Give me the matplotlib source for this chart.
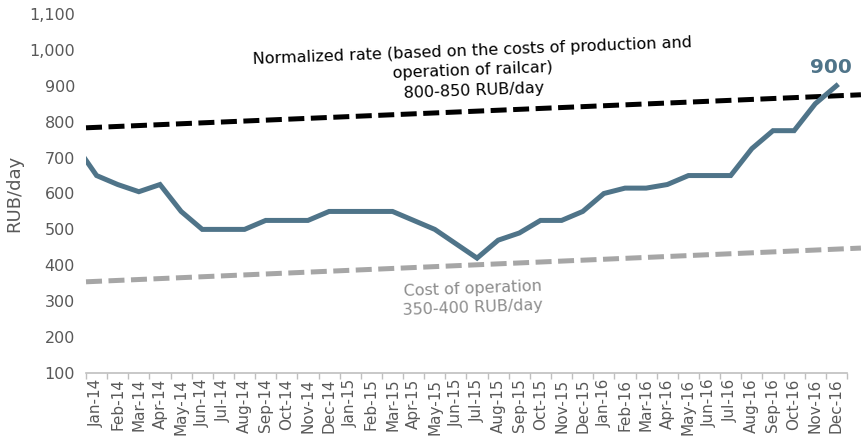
import numpy as np
import matplotlib
matplotlib.use("Agg")
import matplotlib.pyplot as plt

plt.rcParams["font.family"] = ["DejaVu Sans"]

months = ["Jan-14", "Feb-14", "Mar-14", "Apr-14", "May-14", "Jun-14", "Jul-14", "Aug-14",
          "Sep-14", "Oct-14", "Nov-14", "Dec-14", "Jan-15", "Feb-15", "Mar-15", "Apr-15",
          "May-15", "Jun-15", "Jul-15", "Aug-15", "Sep-15", "Oct-15", "Nov-15", "Dec-15",
          "Jan-16", "Feb-16", "Mar-16", "Apr-16", "May-16", "Jun-16", "Jul-16", "Aug-16",
          "Sep-16", "Oct-16", "Nov-16", "Dec-16"]
# previous month (Dec-13) sits just left of the axis and is clipped
rate_prev = 735
rate = [650, 625, 605, 625, 550, 500, 500, 500, 525, 525, 525, 550,
        550, 550, 550, 525, 500, 460, 420, 470, 490, 525, 525, 550,
        600, 615, 615, 625, 650, 650, 650, 725, 775, 775, 850, 900]

# trend lines: value at left edge and at right end of the picture
norm_ends = [783, 875]
cost_ends = [354, 448]

blue = "#4F7489"
grey_txt = "#595959"

fig = plt.figure(figsize=(8.61, 4.46), dpi=100)
ax = fig.add_axes([0.0999, 0.1637, 0.8838, 0.8049])

x = np.arange(-1, len(months))
y = [rate_prev] + rate
ax.plot(x, y, color=blue, lw=3.6, solid_joinstyle="miter", zorder=3)

x_ends = [-0.5, 36.16]
ax.plot(x_ends, norm_ends, color="black", lw=3.6, dashes=(3.2, 1.3), clip_on=False, zorder=2)
ax.plot(x_ends, cost_ends, color="#A6A6A6", lw=3.6, dashes=(3.2, 1.3), clip_on=False, zorder=2)

ax.text(17.8, 942, "Normalized rate (based on the costs of production and\noperation of railcar)\n800-850 RUB/day",
        ha="center", va="center", fontsize=11.5, rotation=2.2, rotation_mode="anchor",
        multialignment="center", linespacing=1.4, color="black")
ax.text(17.8, 308, "Cost of operation\n350-400 RUB/day", ha="center", va="center",
        fontsize=11.5, rotation=2.2, rotation_mode="anchor", multialignment="center",
        linespacing=1.3, color="#8C8C8C")
ax.text(34.74, 952, "900", ha="center", va="center", fontsize=14.5, fontweight="bold", color=blue)

ax.set_xlim(-0.5, len(months) - 0.5)
ax.set_ylim(100, 1100)
ax.set_yticks(range(100, 1101, 100))
ax.set_yticklabels([f"{v:,}" for v in range(100, 1101, 100)], fontsize=11.5, color=grey_txt)
ax.set_xticks(range(len(months)))
ax.set_xticklabels(months, rotation=90, fontsize=11, color=grey_txt)
ax.set_xticks(np.arange(-0.5, len(months), 1), minor=True)
ax.tick_params(axis="x", which="major", length=0, pad=4)
ax.tick_params(axis="x", which="minor", length=4, color="#BFBFBF", width=1)
ax.tick_params(axis="y", length=0, pad=8)
ax.set_ylabel("RUB/day", fontsize=13, color=grey_txt, labelpad=4)

for s in ["top", "right", "left"]:
    ax.spines[s].set_visible(False)
ax.spines["bottom"].set_color("#BFBFBF")
ax.spines["bottom"].set_linewidth(1.2)

fig.savefig("out.png", dpi=100)
